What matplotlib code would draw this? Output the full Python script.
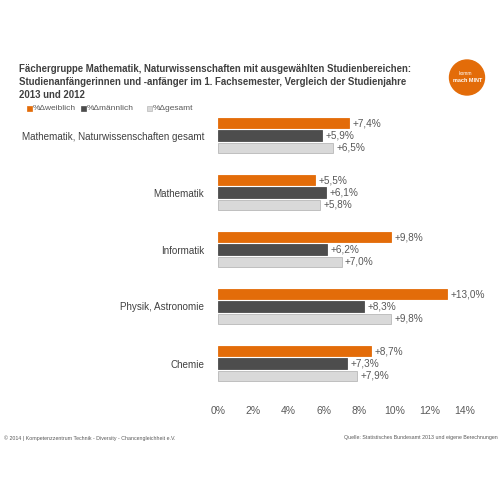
import numpy as np
import matplotlib.pyplot as plt
from matplotlib.patches import Circle

plt.rcParams['font.family'] = ['Liberation Sans', 'DejaVu Sans']

categories = ["Mathematik, Naturwissenschaften gesamt", "Mathematik", "Informatik",
              "Physik, Astronomie", "Chemie"]
weiblich = [7.4, 5.5, 9.8, 13.0, 8.7]
maennlich = [5.9, 6.1, 6.2, 8.3, 7.3]
gesamt = [6.5, 5.8, 7.0, 9.8, 7.9]
series_names = ["%\u0394weiblich", "%\u0394m\u00e4nnlich", "%\u0394gesamt"]
colors = ["#e36c09", "#4d4d4d", "#d9d9d9"]
edges = ["#e36c09", "#4d4d4d", "#b8b8b8"]

fig = plt.figure(figsize=(5, 5), dpi=100)
ax = fig.add_axes([0.436, 0.216, 0.494, 0.57])

y = np.arange(len(categories))
h = 0.18
offsets = [-0.215, 0.0, 0.215]
for vals, off, c, ec in zip([weiblich, maennlich, gesamt], offsets, colors, edges):
    ax.barh(y + off, vals, height=h, color=c, edgecolor=ec, linewidth=0.6)
    for yi, v in zip(y, vals):
        ax.text(v + 0.2, yi + off, "+" + f"{v:.1f}".replace(".", ",") + "%",
                va="center", ha="left", fontsize=7.2, color="#595959")

ax.set_xlim(0, 14)
ax.set_ylim(4.5, -0.5)
ax.set_xticks(np.arange(0, 15, 2))
ax.set_xticklabels([f"{t}%" for t in range(0, 15, 2)], fontsize=7.5, color="#595959")
ax.set_yticks(y)
ax.set_yticklabels(categories, fontsize=7.1, color="#404040")
ax.tick_params(length=0, axis="x", pad=10)
ax.tick_params(length=0, axis="y", pad=10)
for s in ax.spines.values():
    s.set_visible(False)

fig.text(0.038, 0.872,
         "F\u00e4chergruppe Mathematik, Naturwissenschaften mit ausgew\u00e4hlten Studienbereichen:\n"
         "Studienanf\u00e4ngerinnen und -anf\u00e4nger im 1. Fachsemester, Vergleich der Studienjahre\n"
         "2013 und 2012",
         fontsize=6.9, fontweight="bold", color="#404040", va="top", ha="left", linespacing=1.35)

# legend
lx = [0.054, 0.162, 0.294]
for x0, name, c, ec in zip(lx, series_names, colors, edges):
    fig.patches.append(plt.Rectangle((x0, 0.779), 0.009, 0.009, transform=fig.transFigure,
                                     facecolor=c, edgecolor=ec, linewidth=0.5))
    fig.text(x0 + 0.012, 0.784, name, fontsize=6.0, color="#595959", va="center", ha="left")

# logo
logo = Circle((0.934, 0.845), 0.035, transform=fig.transFigure, color="#e36c09")
fig.patches.append(logo)
fig.text(0.93, 0.853, "komm", fontsize=3.5, color="white", ha="center", va="center")
fig.text(0.936, 0.838, "mach MINT", fontsize=4, color="white", ha="center", va="center",
         fontweight="bold")

fig.text(0.007, 0.124, "\u00a9 2014 | Kompetenzzentrum Technik - Diversity - Chancengleichheit e.V.",
         fontsize=3.8, color="#595959", ha="left", va="center")
fig.text(0.995, 0.124, "Quelle: Statistisches Bundesamt 2013 und eigene Berechnungen",
         fontsize=3.8, color="#595959", ha="right", va="center")

fig.savefig("out.png", dpi=100, facecolor="white")
